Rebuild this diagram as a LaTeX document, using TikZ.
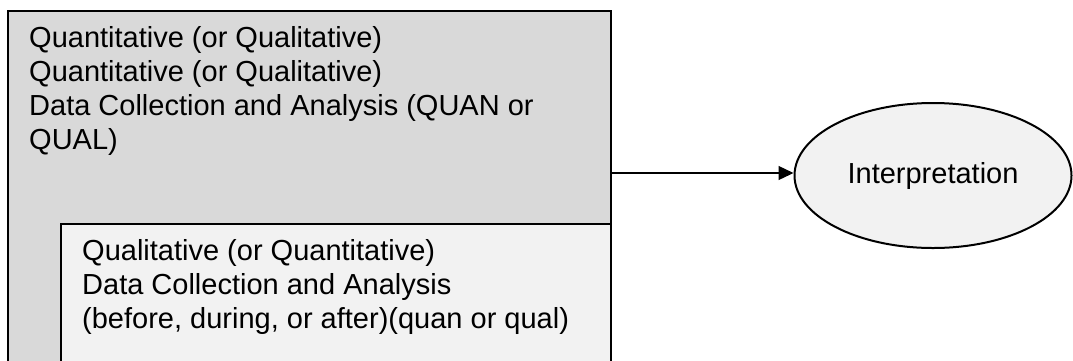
\documentclass[tikz,border=0pt]{standalone}
\usepackage{fontspec}
\setmainfont{Liberation Sans}
\usetikzlibrary{arrows.meta,shapes.geometric}
\definecolor{outergray}{HTML}{D9D9D9}
\definecolor{innergray}{HTML}{F2F2F2}
\begin{document}
\begin{tikzpicture}[x=1pt,y=-1pt,
  boxstyle/.style={draw=black,line width=2pt,rectangle,inner sep=0pt,anchor=north west},
  txt/.style={inner sep=0pt,anchor=base west,align=left,font=\fontsize{29}{34}\selectfont},
  conn/.style={line width=1.3pt,-{Triangle[length=15pt,width=14pt]}}]
\useasboundingbox (0,0) rectangle (1073,360);
\node[boxstyle,fill=outergray,minimum width=603pt,minimum height=370pt] (outer) at (7,10) {};
\node[boxstyle,fill=innergray,minimum width=550pt,minimum height=160pt] (inner) at (60,223) {};
\node[txt] (t1) at (29,149) {Quantitative (or Qualitative)\\Quantitative (or Qualitative)\\Data Collection and Analysis (QUAN or\\QUAL)};
\node[txt] (t2) at (82,328) {Qualitative (or Quantitative)\\Data Collection and Analysis\\(before, during, or after)(quan or qual)};
\node[ellipse,draw=black,line width=2pt,fill=innergray,minimum width=277pt,minimum height=145pt,inner sep=0pt,font=\fontsize{29}{34}\selectfont] (ell) at (933,175.5) {Interpretation};
\coordinate (start) at (611,173);
\draw[conn] (start) -- (start -| ell.west);
\end{tikzpicture}
\end{document}
